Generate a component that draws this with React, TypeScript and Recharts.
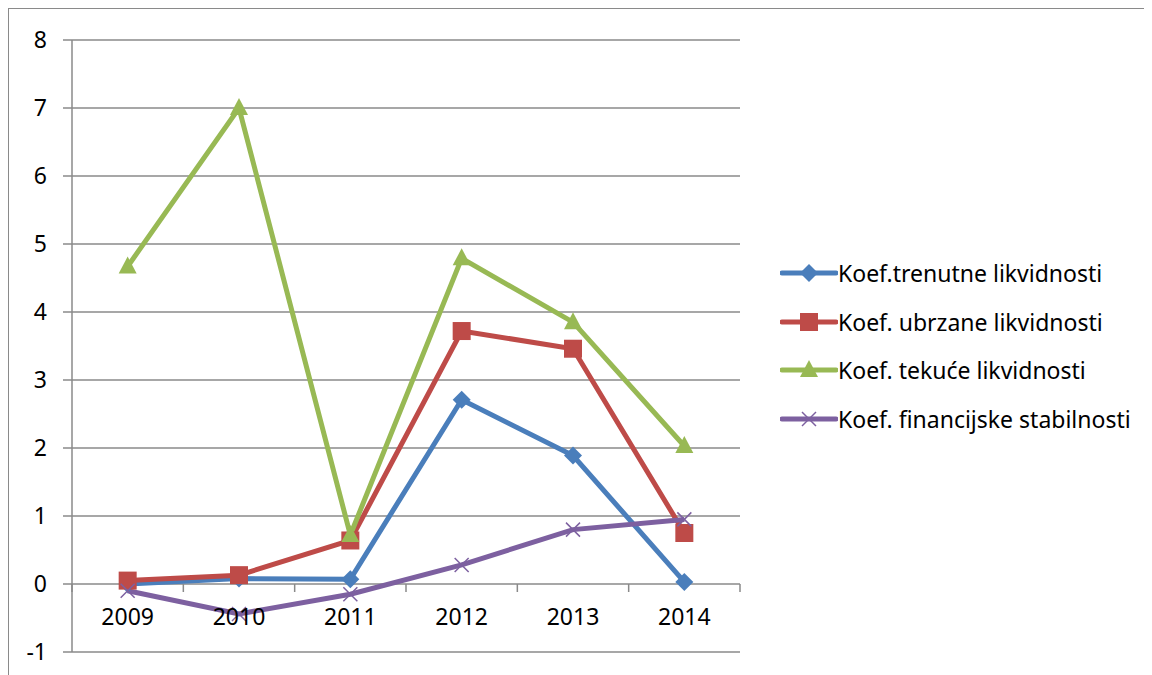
import React from 'react';
import { LineChart, Line, XAxis, YAxis, CartesianGrid, Legend } from 'recharts';

const years = ['2009', '2010', '2011', '2012', '2013', '2014'];
const trenutne = [0.0, 0.08, 0.07, 2.71, 1.89, 0.03];
const ubrzane = [0.05, 0.13, 0.64, 3.72, 3.46, 0.75];
const tekuce = [4.67, 7.0, 0.72, 4.79, 3.85, 2.03];
const stabilnost = [-0.1, -0.44, -0.15, 0.28, 0.8, 0.95];
const yTicks = [-1, 0, 1, 2, 3, 4, 5, 6, 7, 8];

const data = years.map((year, i) => ({
  year,
  trenutne: trenutne[i],
  ubrzane: ubrzane[i],
  tekuce: tekuce[i],
  stabilnost: stabilnost[i],
}));

const FONT = '"Noto Sans", "Open Sans", sans-serif';
const GRID = '#8a8a8a';

type Shape = 'diamond' | 'square' | 'triangle' | 'cross';

const series: { key: string; name: string; color: string; shape: Shape }[] = [
  { key: 'trenutne', name: 'Koef.trenutne likvidnosti', color: '#4A7EBB', shape: 'diamond' },
  { key: 'ubrzane', name: 'Koef. ubrzane likvidnosti', color: '#BE4B48', shape: 'square' },
  { key: 'tekuce', name: 'Koef. tekuće likvidnosti', color: '#98B954', shape: 'triangle' },
  { key: 'stabilnost', name: 'Koef. financijske stabilnosti', color: '#7D60A0', shape: 'cross' },
];

const Marker = ({ cx, cy, shape, color }: { cx: number; cy: number; shape: Shape; color: string }) => {
  switch (shape) {
    case 'diamond':
      return <polygon points={`${cx},${cy - 9} ${cx + 9},${cy} ${cx},${cy + 9} ${cx - 9},${cy}`} fill={color} />;
    case 'square':
      return <rect x={cx - 9} y={cy - 9} width={18} height={18} fill={color} />;
    case 'triangle':
      return <polygon points={`${cx},${cy - 10} ${cx + 9},${cy + 7} ${cx - 9},${cy + 7}`} fill={color} />;
    default:
      return (
        <g stroke={color} strokeWidth={1.5}>
          <line x1={cx - 7} y1={cy - 7} x2={cx + 7} y2={cy + 7} />
          <line x1={cx - 7} y1={cy + 7} x2={cx + 7} y2={cy - 7} />
        </g>
      );
  }
};

const makeDot = (shape: Shape, color: string) => (props: any) => {
  const { cx, cy, index } = props;
  if (cx == null || cy == null) return <g key={index} />;
  return (
    <g key={index}>
      <Marker cx={cx} cy={cy} shape={shape} color={color} />
    </g>
  );
};

// x axis sits at y = 0, so labels and tick marks are shifted up from the plot bottom
const YearTick = (props: any) => {
  const { x, y, payload, index, width } = props;
  const off = payload?.offset || (width ? width / years.length / 2 : 55.7);
  const zeroY = y - 68;
  return (
    <g>
      <line x1={x - off} y1={zeroY} x2={x - off} y2={zeroY + 8} stroke={GRID} strokeWidth={1.5} />
      {index === years.length - 1 && (
        <line x1={x + off} y1={zeroY} x2={x + off} y2={zeroY + 8} stroke={GRID} strokeWidth={1.5} />
      )}
      <text x={x} y={y - 27} textAnchor="middle" fontSize={23} fontFamily={FONT} fill="#000">
        {payload.value}
      </text>
    </g>
  );
};

const LegendContent = () => (
  <div style={{ fontFamily: FONT, fontSize: 23, color: '#000' }}>
    {series.map((s) => (
      <div key={s.key} style={{ display: 'flex', alignItems: 'center', height: 48.5 }}>
        <svg width={58} height={24} style={{ flex: 'none' }}>
          <line x1={2} y1={12} x2={56} y2={12} stroke={s.color} strokeWidth={5} strokeLinecap="round" />
          <Marker cx={29} cy={12} shape={s.shape} color={s.color} />
        </svg>
        <span style={{ whiteSpace: 'nowrap' }}>{s.name}</span>
      </div>
    ))}
  </div>
);

export default function App() {
  return (
    <div style={{ width: 1142, height: 700, border: `1px solid ${GRID}`, boxSizing: 'border-box', overflow: 'hidden' }}>
      <LineChart width={1140} height={698} data={data} margin={{ top: 31, right: 409, bottom: 35, left: 0 }}>
        <CartesianGrid vertical={false} stroke={GRID} strokeWidth={1.5} />
        <XAxis
          dataKey="year"
          scale="band"
          axisLine={false}
          tickLine={false}
          tickSize={0}
          tickMargin={0}
          height={20}
          interval={0}
          tick={<YearTick />}
        />
        <YAxis
          domain={[-1, 8]}
          ticks={yTicks}
          interval={0}
          width={63}
          axisLine={{ stroke: GRID, strokeWidth: 1.5 }}
          tickLine={{ stroke: GRID, strokeWidth: 1.5 }}
          tickSize={9}
          tickMargin={16}
          tick={{ fill: '#000', fontSize: 23, fontFamily: FONT }}
        />
        <Legend
          layout="vertical"
          align="center"
          verticalAlign="middle"
          content={<LegendContent />}
          wrapperStyle={{ left: 771, top: 240, width: 370 }}
        />
        {series.map((s) => (
          <Line
            key={s.key}
            dataKey={s.key}
            name={s.name}
            type="linear"
            stroke={s.color}
            strokeWidth={5}
            dot={makeDot(s.shape, s.color)}
            activeDot={false}
            isAnimationActive={false}
          />
        ))}
      </LineChart>
    </div>
  );
}
